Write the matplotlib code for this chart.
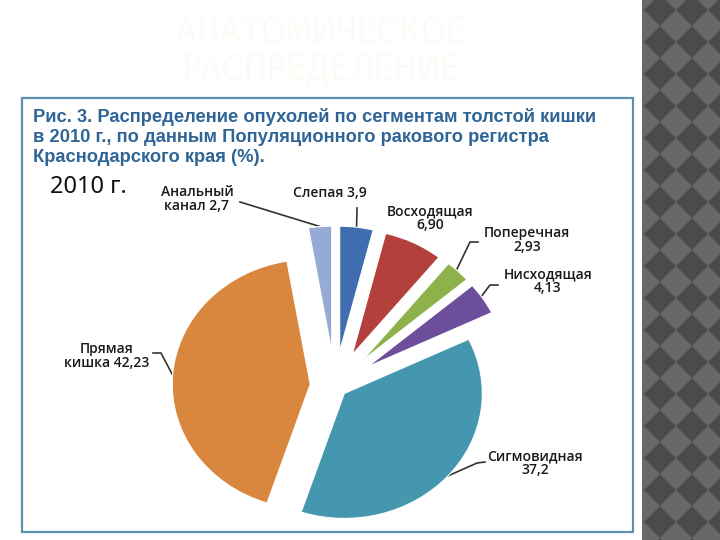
import numpy as np
import matplotlib
matplotlib.use("Agg")
import matplotlib.pyplot as plt
from matplotlib.patches import Rectangle, Polygon
from matplotlib.lines import Line2D

# ---------------- data ----------------
segments = ["Слепая", "Восходящая", "Поперечная", "Нисходящая",
            "Сигмовидная", "Прямая кишка", "Анальный канал"]
values = [3.9, 6.90, 2.93, 4.13, 37.2, 42.23, 2.7]
value_labels = ["3,9", "6,90", "2,93", "4,13", "37,2", "42,23", "2,7"]
label_texts = ["Слепая 3,9", "Восходящая\n6,90", "Поперечная\n2,93",
               "Нисходящая\n4,13", "Сигмовидная\n37,2", "Прямая\nкишка 42,23",
               "Анальный\nканал 2,7"]
colors = ["#3f6eb0", "#b3403d", "#8db24b", "#6c4e9b", "#4597b0", "#d9873f", "#95abd5"]
explode = [0.28, 0.28, 0.28, 0.28, 0.09, 0.18, 0.28]

title_lines = ["Рис. 3. Распределение опухолей по сегментам толстой кишки",
               "в 2010 г., по данным Популяционного ракового регистра",
               "Краснодарского края (%)."]
year_text = "2010 г."
slide_title = "АНАТОМИЧЕСКОЕ\nРАСПРЕДЕЛЕНИЕ"

# ---------------- layout ----------------
W, H = 720, 540
CX, CY = 335, 386          # pie centre in pixels
SX, SY = 138, 125          # pie radius in pixels (x, y)

fig = plt.figure(figsize=(7.2, 5.4), dpi=100)
fig.patch.set_facecolor("white")

bg = fig.add_axes([0, 0, 1, 1], zorder=0)
bg.set_xlim(0, W)
bg.set_ylim(H, 0)
bg.axis("off")

# right decorative strip (harlequin)
strip = Rectangle((642, 0), 78, 540, facecolor="#656565", edgecolor="none")
bg.add_patch(strip)
half = 16
for i in range(-1, 8):
    for j in range(-2, 40):
        if (i + j) % 2:
            continue
        cx = 660 + i * half
        cy = 10 + j * half
        col = "#4b4b4b" if i % 2 == 0 else "#686868"
        p = Polygon([(cx - half, cy), (cx, cy - half), (cx + half, cy), (cx, cy + half)],
                    closed=True, facecolor=col, edgecolor="none")
        bg.add_patch(p)
        p.set_clip_path(strip)

# faint slide title
bg.text(321, 51, slide_title, ha="center", va="center", fontsize=25,
        color="#fefbf7", family="DejaVu Sans", fontstretch="condensed", linespacing=1.1)

# framed figure box
bg.add_patch(Rectangle((22, 98), 611, 434, facecolor="white", edgecolor="#5e90b0",
                       linewidth=1.6, zorder=3))

for k, (line, y) in enumerate(zip(title_lines, [117, 137, 157])):
    bg.text(33, y, line, ha="left", va="center", fontsize=13.2, fontweight="bold",
            color="#2f6596", family="Liberation Sans", zorder=5)

bg.text(88, 187, year_text, ha="center", va="center", fontsize=17,
        color="#111111", family="Noto Sans", zorder=5)

# ---------------- pie ----------------
ax = fig.add_axes([0, 0, 1, 1], zorder=4)
ax.patch.set_alpha(0)
wedges, _ = ax.pie(values, colors=colors, startangle=90, counterclock=False,
                   explode=explode, radius=1.0,
                   wedgeprops=dict(edgecolor="white", linewidth=0.8))
ax.set_aspect("auto")
ax.set_xlim(-CX / SX, (W - CX) / SX)
ax.set_ylim(-(H - CY) / SY, CY / SY)
ax.axis("off")

to_bg = ax.transData + bg.transData.inverted()

def anchor(idx, r=1.0):
    w = wedges[idx]
    a = np.deg2rad((w.theta1 + w.theta2) / 2)
    x = w.center[0] + r * w.r * np.cos(a)
    y = w.center[1] + r * w.r * np.sin(a)
    return to_bg.transform((x, y))

# label positions (pixels) and leader-line elbows
label_pos = [(330, 193), (430, 218), (527, 240), (548, 281),
             (535, 463), (107, 356), (197, 199)]
leaders = {
    0: ([(357, 208)], 1.0),
    2: ([(478, 242), (470, 242)], 0.96),
    3: ([(498, 285), (490, 285)], 0.95),
    4: ([(485, 462), (477, 463)], 1.0),
    5: ([(153, 353), (161, 353)], 1.0),
    6: ([(240, 202)], 1.0),
}

for i, (txt, (x, y)) in enumerate(zip(label_texts, label_pos)):
    bg.text(x, y, txt, ha="center", va="center", fontsize=10, color="#1a1a1a",
            family="Open Sans", fontweight="semibold", linespacing=0.97,
            multialignment="center", zorder=6)

for i, (pts, r) in leaders.items():
    ax_pt = anchor(i, r)
    xs = [p[0] for p in pts] + [ax_pt[0]]
    ys = [p[1] for p in pts] + [ax_pt[1]]
    bg.add_line(Line2D(xs, ys, color="#333333", linewidth=1.2, zorder=6))

fig.savefig("out.png", dpi=100)
